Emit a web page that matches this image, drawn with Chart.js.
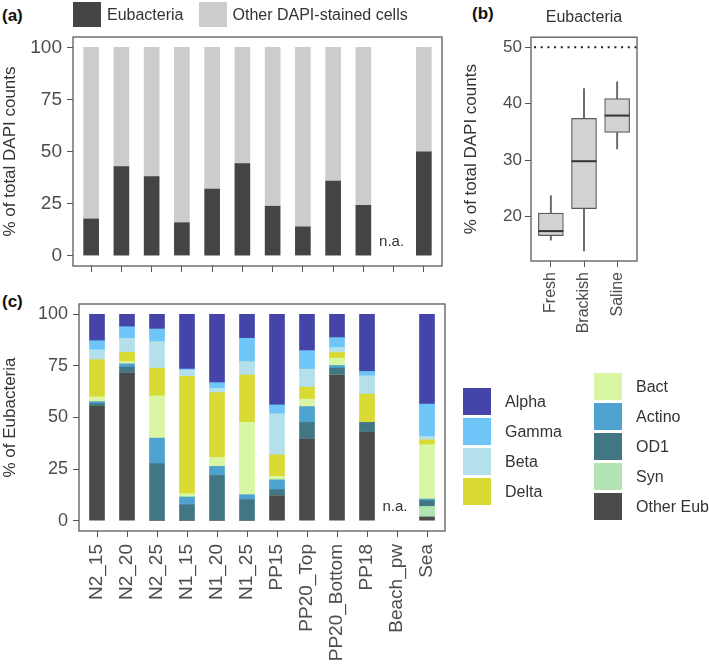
<!DOCTYPE html>
<html>
<head>
<meta charset="utf-8">
<script src="https://cdn.jsdelivr.net/npm/chart.js@4.4.1/dist/chart.umd.min.js"></script>
<style>
  body { margin: 0; width: 709px; height: 668px; background: #fff; position: relative; overflow: hidden;
         font-family: 'Liberation Sans', Arial, sans-serif; }
  canvas { position: absolute; }
  .tag { position: absolute; font-weight: bold; font-size: 17px; color: #111; }
  #legendA { position: absolute; left: 73px; top: 2px; display: flex; font-size: 16px; color: #333; }
  #legendA .item { display: flex; align-items: center; height: 25px; margin-right: 15px; }
  #legendA .sw { width: 28px; height: 25px; margin-right: 6px; }
  #legendC { position: absolute; left: 463px; top: 373px; width: 246px; height: 150px; }
  #legendC .col { position: absolute; top: 0; }
  #legendC .item { display: flex; align-items: center; height: 27px; margin-bottom: 3px; font-size: 16px; color: #333; }
  #legendC .sw { width: 28px; height: 27px; margin-right: 14px; }
</style>
</head>
<body>
<div class="tag" style="left:2px;top:6px">(a)</div>
<div class="tag" style="left:472px;top:4px">(b)</div>
<div class="tag" style="left:2px;top:292px">(c)</div>
<canvas id="chartA" width="460" height="290" style="left:0;top:0"></canvas>
<canvas id="chartB" width="254" height="345" style="left:455px;top:0"></canvas>
<canvas id="chartC" width="460" height="373" style="left:0;top:295px"></canvas>
<div id="legendA"></div>
<div id="legendC"></div>
<script>
// sites, shared by panels (a) and (c)
const sites = ['N2_15', 'N2_20', 'N2_25', 'N1_15', 'N1_20', 'N1_25', 'PP15', 'PP20_Top', 'PP20_Bottom', 'PP18', 'Beach_pw', 'Sea'];
const pctTicks = [0, 25, 50, 75, 100];
const missingSite = 'Beach_pw';

// panel (a): % of total DAPI counts
const eubacteria = [17.6, 42.7, 37.9, 15.8, 32.0, 44.2, 23.7, 13.8, 35.8, 24.2, null, 49.9];
const otherDapi  = [82.4, 57.3, 62.1, 84.2, 68.0, 55.8, 76.3, 86.2, 64.2, 75.8, null, 50.1];

// panel (b): boxplot of eubacteria share per habitat
const habitats = ['Fresh', 'Brackish', 'Saline'];
const whiskerLow  = [15.8, 13.9, 32.0];
const boxLow      = [16.6, 21.4, 34.9];
const medians     = [17.4, 29.8, 37.9];
const boxHigh     = [20.6, 37.4, 40.9];
const whiskerHigh = [23.7, 42.7, 43.9];
const habitatTicks = [20, 30, 40, 50];
const halfLine = 50;

// panel (c): % of Eubacteria per group (top of stack first)
const taxa = ['Alpha', 'Gamma', 'Beta', 'Delta', 'Bact', 'Actino', 'OD1', 'Syn', 'Other Eub'];
const alpha    = [12.8, 6.0, 7.1, 26.5, 33.1, 11.6, 43.9, 17.6, 11.3, 27.7, null, 43.5];
const gamma    = [4.4, 5.6, 6.1, 0.5, 2.7, 11.3, 4.3, 9.0, 4.8, 2.1, null, 15.7];
const beta     = [4.8, 6.8, 12.9, 3.0, 2.1, 6.5, 19.9, 8.7, 2.4, 8.9, null, 1.6];
const delta    = [18.0, 4.5, 13.4, 56.9, 31.5, 22.9, 10.4, 5.8, 2.8, 13.7, null, 2.4];
const bact     = [2.3, 1.1, 20.5, 1.6, 4.3, 35.1, 1.7, 3.6, 3.5, 0, null, 26.3];
const actino   = [1.0, 1.6, 12.4, 3.8, 4.4, 2.4, 4.8, 7.7, 1.3, 0, null, 0.8];
const od1      = [1.2, 2.9, 27.6, 7.7, 21.9, 10.2, 2.9, 8.1, 3.3, 4.7, null, 2.8];
const syn      = [0, 0, 0, 0, 0, 0, 0, 0, 0, 0, null, 5.1];
const otherEub = [55.5, 71.5, 0, 0, 0, 0, 12.1, 39.5, 70.6, 42.9, null, 1.8];
const taxonValues = [alpha, gamma, beta, delta, bact, actino, od1, syn, otherEub];
const taxonColors = ['#4444a9', '#6ec5f8', '#b3e0eb', '#d9da33', '#d8f6a3', '#4da2cf', '#427685', '#b1e4b2', '#4a4a4a'];

Chart.defaults.font.family = "'Liberation Sans', Arial, sans-serif";
Chart.defaults.color = '#4d4d4d';
Chart.defaults.animation = false;

// box round the plot area, ggplot style
const framePlugin = {
    id: 'frame',
    afterDraw(chart) {
        const { ctx, chartArea: a } = chart;
        ctx.save();
        ctx.strokeStyle = '#5a5a5a';
        ctx.lineWidth = 1.3;
        ctx.strokeRect(a.left, a.top, a.right - a.left, a.bottom - a.top);
        ctx.restore();
    }
};

// "n.a." where a site has no data
const naPlugin = {
    id: 'naLabel',
    afterDatasetsDraw(chart) {
        const { ctx, scales } = chart;
        const i = sites.indexOf(missingSite);
        ctx.save();
        ctx.font = "15px 'Liberation Sans', Arial, sans-serif";
        ctx.fillStyle = '#333';
        ctx.textAlign = 'center';
        ctx.textBaseline = 'bottom';
        ctx.fillText('n.a.', scales.x.getPixelForValue(i) - 2, scales.y.getPixelForValue(0) - 6);
        ctx.restore();
    }
};

const refLinePlugin = {
    id: 'refLine',
    beforeDatasetsDraw(chart) {
        const { ctx, chartArea: a, scales } = chart;
        const y = scales.y.getPixelForValue(halfLine);
        ctx.save();
        ctx.strokeStyle = '#222';
        ctx.lineWidth = 2;
        ctx.setLineDash([2, 4.7]);
        ctx.beginPath();
        ctx.moveTo(a.left + 3, y);
        ctx.lineTo(a.right, y);
        ctx.stroke();
        ctx.restore();
    }
};

const medianPlugin = {
    id: 'medianLines',
    afterDatasetsDraw(chart) {
        const { ctx, scales } = chart;
        ctx.save();
        ctx.strokeStyle = '#333';
        ctx.lineWidth = 2;
        medians.forEach((m, i) => {
            const cx = scales.x.getPixelForValue(i);
            const cy = scales.y.getPixelForValue(m);
            ctx.beginPath();
            ctx.moveTo(cx - 12.5, cy);
            ctx.lineTo(cx + 12.5, cy);
            ctx.stroke();
        });
        ctx.restore();
    }
};

const tickGrid = { drawOnChartArea: false, drawTicks: true, tickLength: 6, color: '#555', lineWidth: 1, offset: false };

// fixed axis sizes, without the label overflow padding chart.js adds
const fixHeight = h => ax => { ax.height = h; ax.paddingLeft = 0; ax.paddingRight = 0; };
const fixWidth = w => ax => { ax.width = w; ax.paddingTop = 0; ax.paddingBottom = 0; };

function siteAxis(showLabels, height) {
    return {
        type: 'linear', min: -0.6, max: 11.6, stacked: true, offset: false,
        afterBuildTicks: ax => { ax.ticks = sites.map((s, i) => ({ value: i })); },
        afterFit: fixHeight(height),
        ticks: {
            autoSkip: false, minRotation: 90, maxRotation: 90, padding: 7,
            font: { size: 19 },
            callback: v => showLabels ? sites[v] : ''
        },
        grid: tickGrid,
        border: { display: false }
    };
}

function pctAxis(title, width, tickSize) {
    return {
        min: -5, max: 105, stacked: true,
        afterBuildTicks: ax => { ax.ticks = pctTicks.map(v => ({ value: v })); },
        afterFit: fixWidth(width),
        title: { display: true, text: title, font: { size: 17 }, color: '#333', padding: 0 },
        ticks: { font: { size: tickSize }, padding: 5 },
        grid: tickGrid,
        border: { display: false }
    };
}

const toPoints = arr => arr.map((v, i) => ({ x: i, y: v }));

// (a)
const chartA = new Chart(document.getElementById('chartA'), {
    type: 'bar',
    data: {
        datasets: [
            { label: 'Eubacteria', data: toPoints(eubacteria), backgroundColor: '#444444', barThickness: 15 },
            { label: 'Other DAPI-stained cells', data: toPoints(otherDapi), backgroundColor: '#cccccc', barThickness: 15 }
        ]
    },
    options: {
        responsive: false,
        layout: { padding: { top: 37, right: 18, bottom: 0, left: 0 } },
        plugins: { legend: { display: false }, tooltip: { enabled: false } },
        scales: {
            x: siteAxis(false, 24),
            y: pctAxis('% of total DAPI counts', 73, 19)
        }
    },
    plugins: [framePlugin, naPlugin]
});

// (b)
new Chart(document.getElementById('chartB'), {
    type: 'bar',
    data: {
        datasets: [
            { label: 'box', data: habitats.map((h, i) => ({ x: i, y: [boxLow[i], boxHigh[i]] })),
              backgroundColor: '#d3d3d3', borderColor: '#5a5a5a', borderWidth: 1.2, borderSkipped: false,
              barThickness: 25, grouped: false },
            { label: 'lower whisker', data: habitats.map((h, i) => ({ x: i, y: [whiskerLow[i], boxLow[i]] })),
              backgroundColor: '#6a6a6a', barThickness: 1.3, grouped: false },
            { label: 'upper whisker', data: habitats.map((h, i) => ({ x: i, y: [boxHigh[i], whiskerHigh[i]] })),
              backgroundColor: '#6a6a6a', barThickness: 1.3, grouped: false }
        ]
    },
    options: {
        responsive: false,
        layout: { padding: { top: 0, right: 72, bottom: 0, left: 6 } },
        plugins: {
            legend: { display: false },
            tooltip: { enabled: false },
            title: { display: true, text: 'Eubacteria', fullSize: false, font: { size: 16, weight: 'normal' },
                     color: '#333', padding: { top: 8, bottom: 10 } }
        },
        scales: {
            x: {
                type: 'linear', min: -0.6, max: 2.6, offset: false,
                afterBuildTicks: ax => { ax.ticks = habitats.map((h, i) => ({ value: i })); },
                afterFit: fixHeight(84),
                ticks: { autoSkip: false, minRotation: 90, maxRotation: 90, padding: 5, font: { size: 16 },
                         callback: v => habitats[v] },
                grid: tickGrid,
                border: { display: false }
            },
            y: {
                min: 12.1, max: 51.8,
                afterBuildTicks: ax => { ax.ticks = habitatTicks.map(v => ({ value: v })); },
                afterFit: fixWidth(70),
                title: { display: true, text: '% of total DAPI counts', font: { size: 17 }, color: '#333', padding: 0 },
                ticks: { font: { size: 17 }, padding: 3 },
                grid: tickGrid,
                border: { display: false }
            }
        }
    },
    plugins: [framePlugin, refLinePlugin, medianPlugin]
});

// (c) - first dataset sits at the bottom of the stack
const stackDatasets = taxa.map((t, k) => ({
    label: t, data: toPoints(taxonValues[k]), backgroundColor: taxonColors[k], barThickness: 15
})).reverse();

new Chart(document.getElementById('chartC'), {
    type: 'bar',
    data: { datasets: stackDatasets },
    options: {
        responsive: false,
        layout: { padding: { top: 9, right: 15, bottom: 0, left: 0 } },
        plugins: { legend: { display: false }, tooltip: { enabled: false } },
        scales: {
            x: siteAxis(true, 137),
            y: pctAxis('% of Eubacteria', 79, 18)
        }
    },
    plugins: [framePlugin, naPlugin]
});

// legend for (a), from the chart's datasets
const legendA = document.getElementById('legendA');
chartA.data.datasets.forEach(ds => {
    const item = document.createElement('div');
    item.className = 'item';
    item.innerHTML = '<span class="sw" style="background:' + ds.backgroundColor + '"></span>' + ds.label;
    legendA.appendChild(item);
});

// legend for (c): two columns, first four groups then the rest
const legendC = document.getElementById('legendC');
[[0, 4, 0, 15], [4, 9, 131, 0]].forEach(([from, to, left, top]) => {
    const col = document.createElement('div');
    col.className = 'col';
    col.style.left = left + 'px';
    col.style.top = top + 'px';
    for (let k = from; k < to; k++) {
        const item = document.createElement('div');
        item.className = 'item';
        item.innerHTML = '<span class="sw" style="background:' + taxonColors[k] + '"></span>' + taxa[k];
        col.appendChild(item);
    }
    legendC.appendChild(col);
});
</script>
</body>
</html>
